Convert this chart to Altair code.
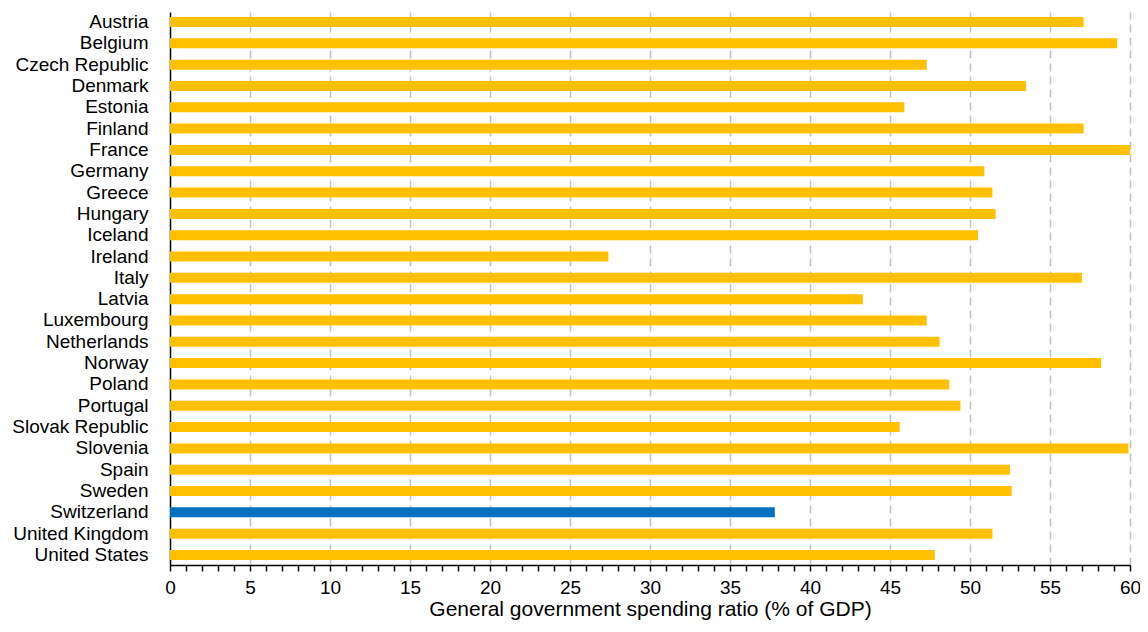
import altair as alt
import pandas as pd

countries = ["Austria", "Belgium", "Czech Republic", "Denmark", "Estonia", "Finland",
             "France", "Germany", "Greece", "Hungary", "Iceland", "Ireland", "Italy",
             "Latvia", "Luxembourg", "Netherlands", "Norway", "Poland", "Portugal",
             "Slovak Republic", "Slovenia", "Spain", "Sweden", "Switzerland",
             "United Kingdom", "United States"]
values = [57.1, 59.2, 47.3, 53.5, 45.9, 57.1, 60.0, 50.9, 51.4, 51.6, 50.5, 27.4, 57.0,
          43.3, 47.3, 48.1, 58.2, 48.7, 49.4, 45.6, 59.9, 52.5, 52.6, 37.8, 51.4, 47.8]
highlight = "Switzerland"
x_ticks = list(range(0, 61))

df = pd.DataFrame({"country": countries, "value": values})

FONT = "Liberation Sans"
FS = 19

chart = alt.Chart(df).mark_bar(clip=False).encode(
    y=alt.Y("country:N", sort=countries,
            scale=alt.Scale(paddingInner=0.53, paddingOuter=0.235),
            axis=alt.Axis(title=None, ticks=False, labelPadding=22, labelFontSize=FS,
                          labelFont=FONT, labelColor="black", domainColor="black",
                          domainWidth=1.5, grid=False)),
    x=alt.X("value:Q", scale=alt.Scale(domain=[0, 60], nice=False),
            axis=alt.Axis(title="General government spending ratio (% of GDP)",
                          values=x_ticks,
                          labelExpr="datum.value % 5 === 0 ? datum.label : ''",
                          labelFontSize=FS, labelFont=FONT, labelColor="black",
                          labelPadding=7, tickSize=6, tickColor="black", tickWidth=1.5,
                          domainColor="black", domainWidth=1.5,
                          titleFont=FONT, titleFontSize=21, titleFontWeight="normal",
                          titleColor="black", titlePadding=1,
                          grid=True, gridColor="#C0C0C0", gridWidth=1.5, gridDash=[8, 5],
                          gridOpacity={"condition": {"test": "datum.value % 5 === 0 && datum.value > 0", "value": 1}, "value": 0},
                          labelFlush=False)),
    color=alt.condition(alt.datum.country == highlight, alt.value("#0070C0"), alt.value("#FFC000")),
).properties(
    width=960, height=553,
    autosize=alt.AutoSizeParams(type="none"),
    padding={"left": 162, "top": 4, "right": 10, "bottom": 58},
).configure_view(stroke=None)

chart.save("out.html", embed_options={"renderer": "svg", "actions": False})
